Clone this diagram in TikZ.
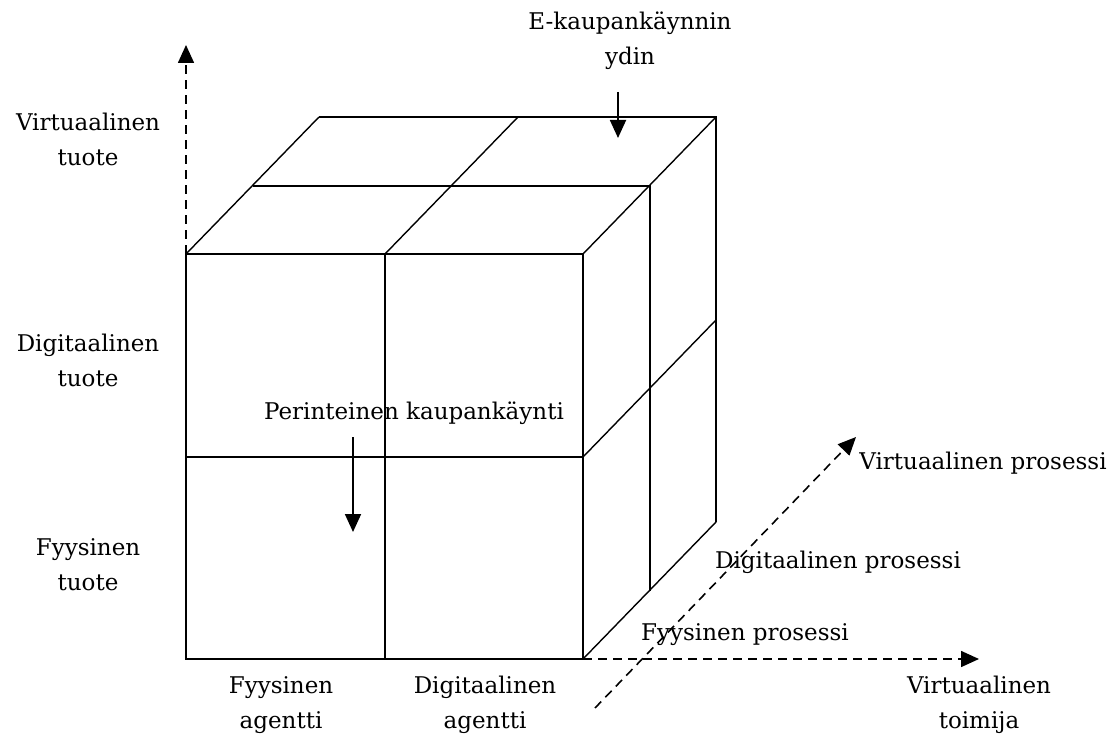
\documentclass[tikz,border=0pt]{standalone}
\usepackage{fontspec}
\setmainfont{DejaVu Serif}
\usetikzlibrary{arrows.meta}
\begin{document}
\begin{tikzpicture}[x=1pt,y=-1pt,
  edge/.style={line width=2pt},
  diag/.style={line width=1.4pt},
  axis/.style={line width=1.6pt,dash pattern=on 9pt off 6pt,-{Triangle[length=18pt,width=16pt]}},
  pointer/.style={line width=1.8pt,-{Triangle[length=18pt,width=16pt]}},
  lbl/.style={align=center,inner sep=0pt,font=\fontsize{23}{35}\selectfont}]
\useasboundingbox (0,0) rectangle (1116,735);
% cube coordinates
\coordinate (ftl) at (186,254);
\coordinate (ftm) at (385,254);
\coordinate (ftr) at (583,254);
\coordinate (fml) at (186,457);
\coordinate (fmr) at (583,457);
\coordinate (fbl) at (186,659);
\coordinate (fbm) at (385,659);
\coordinate (fbr) at (583,659);
\coordinate (btl) at (319,117);
\coordinate (btm) at (518,117);
\coordinate (btr) at (716,117);
\coordinate (bmr) at (716,320);
\coordinate (bbr) at (716,522);
\coordinate (mtl) at (253,186);
\coordinate (mtr) at (650,186);
\coordinate (mbr) at (650,591);
% front face
\draw[edge] (ftl) rectangle (fbr);
\draw[edge] (ftm) -- (fbm);
\draw[edge] (fml) -- (fmr);
% top and right faces
\draw[edge] (btl) -- (btr) -- (bbr);
\draw[edge] (mtl) -- (mtr) -- (mbr);
\draw[diag] (ftl) -- (btl);
\draw[diag] (ftm) -- (btm);
\draw[diag] (ftr) -- (btr);
\draw[diag] (fmr) -- (bmr);
\draw[diag] (fbr) -- (bbr);
% axes
\coordinate (yaxtip) at (186,45);
\coordinate (xaxtip) at (979,659);
\coordinate (zaxbase) at (595,708);
\coordinate (zaxtip) at (856,437);
\draw[axis] (ftl) -- (yaxtip);
\draw[axis] (fbr) -- (xaxtip);
\draw[axis] (zaxbase) -- (zaxtip);
% labels
\node[lbl] (vt) at (88,139) {Virtuaalinen\\tuote};
\node[lbl] (dt) at (88,360) {Digitaalinen\\tuote};
\node[lbl] (ft) at (88,565) {Fyysinen\\tuote};
\node[lbl] (fa) at (281,705) {Fyysinen\\agentti};
\node[lbl] (da) at (485,705) {Digitaalinen\\agentti};
\node[lbl] (vto) at (979,705) {Virtuaalinen\\toimija};
\node[lbl] (ek) at (630,41) {E-kaupankäynnin\\ydin};
\node[lbl] (pk) at (414,413) {Perinteinen kaupankäynti};
\node[lbl] (fp) at (745,635) {Fyysinen prosessi};
\node[lbl] (dp) at (838,562) {Digitaalinen prosessi};
\node[lbl] (vp) at (983,463) {Virtuaalinen prosessi};
% pointers
\coordinate (ekend) at (618,138);
\coordinate (pkend) at (353,532);
\draw[pointer] (618,92) -- (ekend);
\draw[pointer] (353,437) -- (pkend);
\end{tikzpicture}
\end{document}
